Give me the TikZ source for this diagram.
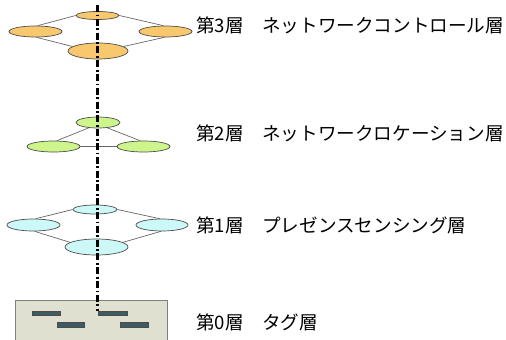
\documentclass[tikz,border=0pt]{standalone}
\usepackage{fontspec}
\setmainfont{Noto Sans CJK JP}
\usetikzlibrary{shapes.geometric}
\definecolor{orn}{RGB}{248,200,110}
\definecolor{grn}{RGB}{206,245,140}
\definecolor{cyn}{RGB}{205,248,248}
\definecolor{tagbg}{RGB}{224,224,208}
\definecolor{tagbar}{RGB}{62,90,98}
\begin{document}
\begin{tikzpicture}[x=1pt,y=-1pt,
  ell/.style={ellipse,draw=black!70,line width=0.7pt,inner sep=0pt},
  e3/.style={ell,fill=orn},
  e2/.style={ell,fill=grn},
  e1/.style={ell,fill=cyn},
  link/.style={draw=black!60,line width=0.7pt},
  axis/.style={line width=2.6pt,dash pattern=on 7pt off 2.5pt on 1.8pt off 2.5pt},
  lbl/.style={anchor=west,inner sep=0pt,font=\fontsize{18.6pt}{20pt}\selectfont},
  bar/.style={draw=black!70,line width=0.4pt,fill=tagbar}]
\useasboundingbox (0,0) rectangle (506,340);
% layer 0 box
\node[draw=black!50,fill=tagbg,line width=0.6pt,minimum width=152pt,minimum height=42pt,inner sep=0pt,anchor=north west] (tag) at (15,300) {};
\node[bar,minimum width=28pt,minimum height=4.5pt,inner sep=0pt] (b1) at (46,313) {};
\node[bar,minimum width=27pt,minimum height=4.5pt,inner sep=0pt] (b2) at (70.5,324.5) {};
\node[bar,minimum width=29pt,minimum height=4.5pt,inner sep=0pt] (b3) at (112.5,313) {};
\node[bar,minimum width=28pt,minimum height=4.5pt,inner sep=0pt] (b4) at (134,324.5) {};
% layer 3
\node[e3,minimum width=43pt,minimum height=8pt] (t3) at (97.5,15.5) {};
\node[e3,minimum width=53pt,minimum height=11pt] (l3) at (35.5,31.5) {};
\node[e3,minimum width=53pt,minimum height=11pt] (r3) at (165.5,31.5) {};
\node[e3,minimum width=60pt,minimum height=16pt] (d3) at (98,51) {};
\draw[link] (t3.west) -- (l3.70);
\draw[link] (t3.east) -- (r3.110);
\draw[link] (l3.-80) -- (d3.170);
\draw[link] (r3.-100) -- (d3.10);
% layer 2
\node[e2,minimum width=44pt,minimum height=11pt] (t2) at (98,122.5) {};
\node[e2,minimum width=53pt,minimum height=11pt] (l2) at (53.5,146.5) {};
\node[e2,minimum width=53pt,minimum height=11pt] (r2) at (143.5,146.5) {};
\draw[link] (t2.-150) -- (l2.60);
\draw[link] (t2.-30) -- (r2.120);
\draw[link] (l2.east) -- (r2.west);
% layer 1
\node[e1,minimum width=44pt,minimum height=9pt] (t1) at (95,209.5) {};
\node[e1,minimum width=53pt,minimum height=12pt] (l1) at (33.5,225) {};
\node[e1,minimum width=52pt,minimum height=12pt] (r1) at (162,225) {};
\node[e1,minimum width=63pt,minimum height=16pt] (d1) at (96.5,247) {};
\draw[link] (t1.west) -- (l1.70);
\draw[link] (t1.east) -- (r1.110);
\draw[link] (l1.-80) -- (d1.170);
\draw[link] (r1.-100) -- (d1.10);
% axis
\coordinate (ax0) at (97.5,5);
\coordinate (ax1) at (97.5,311);
\draw[axis] (ax0) -- (ax1);
% labels
\node[lbl] (n3) at (196,25) {第3層　ネットワークコントロール層};
\node[lbl] (n2) at (196,133) {第2層　ネットワークロケーション層};
\node[lbl] (n1) at (196,225) {第1層　プレゼンスセンシング層};
\node[lbl] (n0) at (196,322) {第0層　タグ層};
\end{tikzpicture}
\end{document}
